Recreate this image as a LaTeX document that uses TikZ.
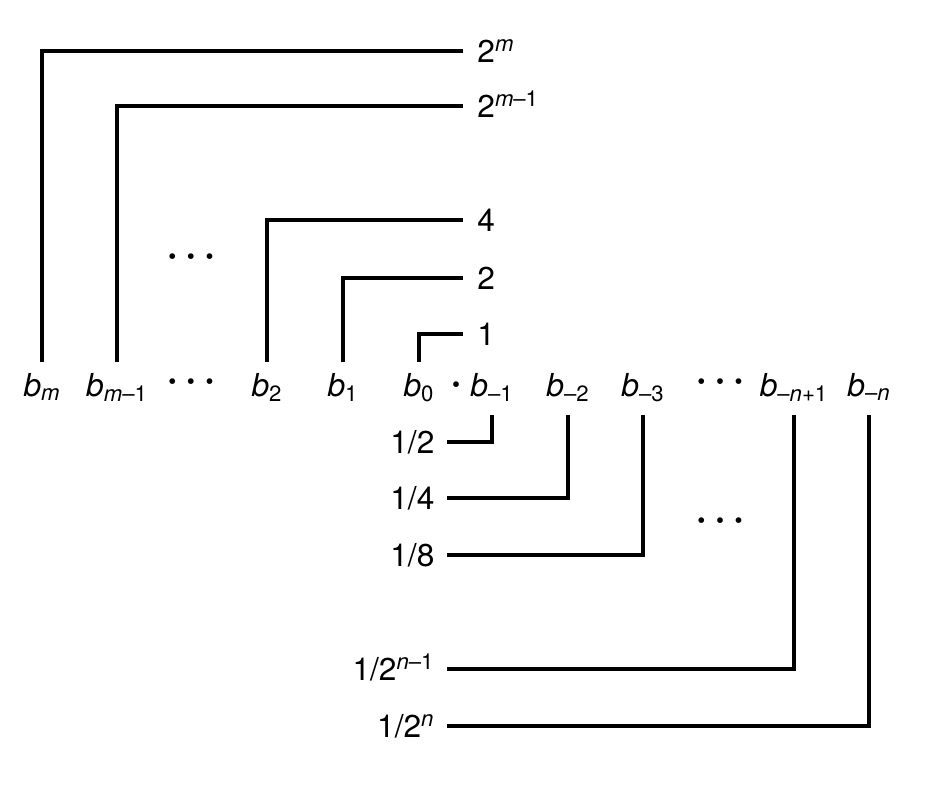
\documentclass[tikz,border=0pt]{standalone}
\usepackage{fontspec}
\setmainfont{TeX Gyre Heros}
\usetikzlibrary{positioning}
\tikzset{
  bit/.style={anchor=base, inner xsep=1pt, inner ysep=5.5pt, text height=13.5pt, text depth=5pt},
  weight/.style={inner ysep=0pt, text height=13pt, text depth=0pt},
  upweight/.style={weight, anchor=west, inner xsep=8pt},
  downweight/.style={weight, anchor=east, inner xsep=7pt},
  link/.style={line width=2pt},
}
\newcommand{\bb}[1]{\textit{b}\textsubscript{#1}}
\newcommand{\dotmark}{{\fontsize{13}{13}\selectfont\textbullet}}
\newcommand{\ellip}{\dotmark\hspace{6pt}\dotmark\hspace{6pt}\dotmark}

\begin{document}
\begin{tikzpicture}[x=0.02cm, y=-0.02cm, font=\fontsize{18}{21}\selectfont]
    \useasboundingbox (0,0) rectangle (925,796);
    % bit positions
    \node[bit] (bm) at (42,396) {\bb{\textit{m}}};
    \node[bit] (bmm) at (117,396) {\bb{\textit{m}–1}};
    \node (ldots) at (191,384) {\ellip};
    \node[bit] (b2) at (267,396) {\bb{2}};
    \node[bit] (b1) at (343,396) {\bb{1}};
    \node[bit] (b0) at (419,396) {\bb{0}};
    \node (point) at (456,387) {\dotmark};
    \node[bit] (bn1) at (492,396) {\bb{–1}};
    \node[bit] (bn2) at (568,396) {\bb{–2}};
    \node[bit] (bn3) at (643,396) {\bb{–3}};
    \node (rdots) at (720,384) {\ellip};
    \node[bit] (bnn1) at (794,396) {\bb{–\textit{n}+1}};
    \node[bit] (bnn) at (869,396) {\bb{–\textit{n}}};
    % weights of the integer part
    \node[upweight] (wm) at (463,51) {2\textsuperscript{\textit{m}}};
    \node[upweight] (wmm) at (463,106) {2\textsuperscript{\textit{m}–1}};
    \node (udots) at (191,259) {\ellip};
    \node[upweight] (w2) at (463,220) {4};
    \node[upweight] (w1) at (463,278) {2};
    \node[upweight] (w0) at (463,334) {1};
    % weights of the fraction part
    \node[downweight] (wn1) at (447,442) {1/2};
    \node[downweight] (wn2) at (447,498) {1/4};
    \node[downweight] (wn3) at (447,555) {1/8};
    \node (ddots) at (720,523) {\ellip};
    \node[downweight] (wnn1) at (447,669) {1/2\textsuperscript{\textit{n}–1}};
    \node[downweight] (wnn) at (447,726) {1/2\textsuperscript{\textit{n}}};
    % connectors
    \draw[link] (bm.north) |- (wm.west);
    \draw[link] (bmm.north) |- (wmm.west);
    \draw[link] (b2.north) |- (w2.west);
    \draw[link] (b1.north) |- (w1.west);
    \draw[link] (b0.north) |- (w0.west);
    \draw[link] (bn1.south) |- (wn1.east);
    \draw[link] (bn2.south) |- (wn2.east);
    \draw[link] (bn3.south) |- (wn3.east);
    \draw[link] (bnn1.south) |- (wnn1.east);
    \draw[link] (bnn.south) |- (wnn.east);
\end{tikzpicture}
\end{document}
